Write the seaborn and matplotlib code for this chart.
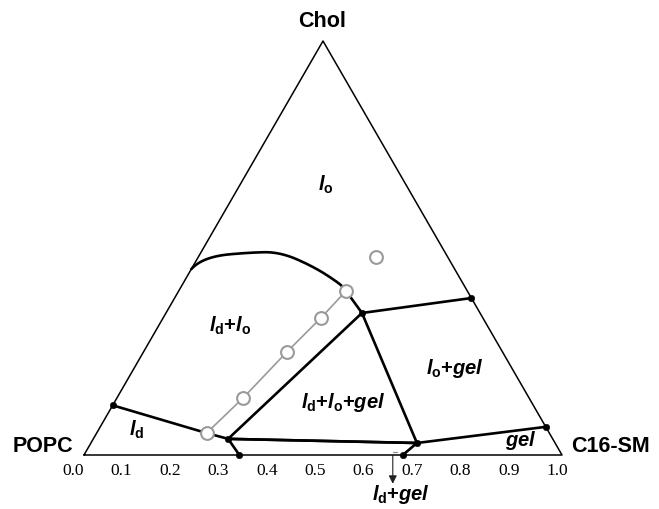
import numpy as np
import pandas as pd
import matplotlib
matplotlib.use("Agg")
import matplotlib.pyplot as plt
import seaborn as sns
from scipy.interpolate import make_interp_spline

# ternary points given as (C16-SM fraction, Chol fraction); POPC is the rest
vertex_sm = [0.0, 1.0, 0.0]
vertex_chol = [0.0, 0.0, 1.0]

# black phase boundaries
boundary_ld_sm = [0.0, 0.23, 0.282]
boundary_ld_chol = [0.12, 0.053, 0.039]
three_phase_sm = [0.282, 0.41, 0.682, 0.282]
three_phase_chol = [0.039, 0.343, 0.029, 0.039]
bottom_sm = [0.325, 0.282, 0.682, 0.667]
bottom_chol = [0.0, 0.039, 0.029, 0.0]
gel_sm = [0.682, 0.932]
gel_chol = [0.029, 0.068]
lo_gel_sm = [0.41, 0.62]
lo_gel_chol = [0.343, 0.379]
# curved ld+lo boundary
curve_sm = [0.0, 0.031, 0.097, 0.167, 0.252, 0.32, 0.35, 0.41]
curve_chol = [0.449, 0.478, 0.488, 0.486, 0.454, 0.418, 0.396, 0.343]

# filled vertices
dot_sm = [0.0, 0.282, 0.325, 0.682, 0.667, 0.932, 0.41, 0.62]
dot_chol = [0.12, 0.039, 0.0, 0.029, 0.0, 0.068, 0.343, 0.379]

# gray tie line with measured compositions
tie_sm = [0.23, 0.264, 0.30, 0.33, 0.35]
tie_chol = [0.053, 0.138, 0.249, 0.331, 0.396]
single_sm = [0.372]
single_chol = [0.478]

tick_values = [0.0, 0.1, 0.2, 0.3, 0.4, 0.5, 0.6, 0.7, 0.8, 0.9, 1.0]

H = np.sqrt(3) / 2


def to_xy(sm, chol):
    sm = np.asarray(sm, dtype=float)
    chol = np.asarray(chol, dtype=float)
    return sm + chol / 2, chol * H


def frame(sm, chol):
    x, y = to_xy(sm, chol)
    return pd.DataFrame({"x": x, "y": y})


sns.set_style("white")
plt.rcParams["text.color"] = "black"
plt.rcParams["mathtext.fontset"] = "custom"
plt.rcParams["mathtext.it"] = "Liberation Sans:italic:bold"
plt.rcParams["mathtext.rm"] = "Liberation Sans:bold"
plt.rcParams["mathtext.bf"] = "Liberation Sans:bold"

fig = plt.figure(figsize=(6.59, 5.09), dpi=100)
ax = fig.add_axes([84 / 659, 54 / 509, 478 / 659, 414 / 509])
ax.set_xlim(0, 1)
ax.set_ylim(0, H)
ax.set_axis_off()

# triangle outline
tri = frame(vertex_sm + vertex_sm[:1], vertex_chol + vertex_chol[:1])
ax.plot(tri["x"], tri["y"], color="black", lw=1.1, clip_on=False)


def line(sm, chol, **kw):
    d = frame(sm, chol)
    sns.lineplot(data=d, x="x", y="y", sort=False, estimator=None, ax=ax,
                 legend=False, clip_on=False, **kw)


for s, c in [(boundary_ld_sm, boundary_ld_chol), (three_phase_sm, three_phase_chol),
             (bottom_sm, bottom_chol), (gel_sm, gel_chol), (lo_gel_sm, lo_gel_chol)]:
    line(s, c, color="black", lw=1.9)

# smooth arc through the read points
cx, cy = to_xy(curve_sm, curve_chol)
t = np.linspace(0, 1, len(cx))
tt = np.linspace(0, 1, 200)
curve = pd.DataFrame({"x": make_interp_spline(t, cx, k=2)(tt),
                      "y": make_interp_spline(t, cy, k=2)(tt)})
sns.lineplot(data=curve, x="x", y="y", sort=False, estimator=None, ax=ax,
             color="black", lw=1.9, legend=False)

# tie line
line(tie_sm, tie_chol, color="#9a9a9a", lw=1.2)
sns.scatterplot(data=frame(tie_sm, tie_chol), x="x", y="y", ax=ax, s=85,
                facecolor="white", edgecolor="#9a9a9a", linewidth=1.5,
                zorder=5, clip_on=False, legend=False)
sns.scatterplot(data=frame(single_sm, single_chol), x="x", y="y", ax=ax, s=85,
                facecolor="white", edgecolor="#9a9a9a", linewidth=1.5,
                zorder=5, legend=False)

# filled vertices
sns.scatterplot(data=frame(dot_sm, dot_chol), x="x", y="y", ax=ax, s=22,
                color="black", edgecolor="black", zorder=6, clip_on=False,
                legend=False)

# bottom axis tick labels
for v in tick_values:
    ax.text(v - 0.023 + 0.013 * v, -0.033, f"{v:.1f}", ha="center", va="center",
            fontsize=12.5, family="Liberation Serif")

# corner labels
corner = dict(fontsize=15.5, fontweight="bold", family="Liberation Sans",
              ha="center", va="center")
ax.text(0.498, 0.906, "Chol", **corner)
ax.text(-0.086, 0.018, "POPC", **corner)
ax.text(1.102, 0.018, "C16-SM", **corner)

# phase labels
phase = dict(fontsize=14.5, ha="center", va="center", family="Liberation Sans",
             fontweight="bold")
ax.text(0.506, 0.566, r"$l_\mathrm{o}$", **phase)
ax.text(0.305, 0.270, r"$l_\mathrm{d}$+$l_\mathrm{o}$", **phase)
ax.text(0.777, 0.180, r"$l_\mathrm{o}$+$gel$", **phase)
ax.text(0.542, 0.109, r"$l_\mathrm{d}$+$l_\mathrm{o}$+$gel$", **phase)
ax.text(0.110, 0.052, r"$l_\mathrm{d}$", **phase)
ax.text(0.914, 0.031, r"$gel$", **phase)
ax.text(0.664, -0.082, r"$l_\mathrm{d}$+$gel$", **phase)

# arrow pointing to the thin ld+gel region
ax.plot([0.655, 0.646], [0.006, 0.006], color="#888888", lw=0.8, clip_on=False)
ax.annotate("", xy=(0.646, -0.066), xytext=(0.646, 0.006),
            arrowprops=dict(arrowstyle="-|>", color="#222222", lw=0.8,
                            mutation_scale=12),
            annotation_clip=False)

fig.savefig("out.png", dpi=100)
